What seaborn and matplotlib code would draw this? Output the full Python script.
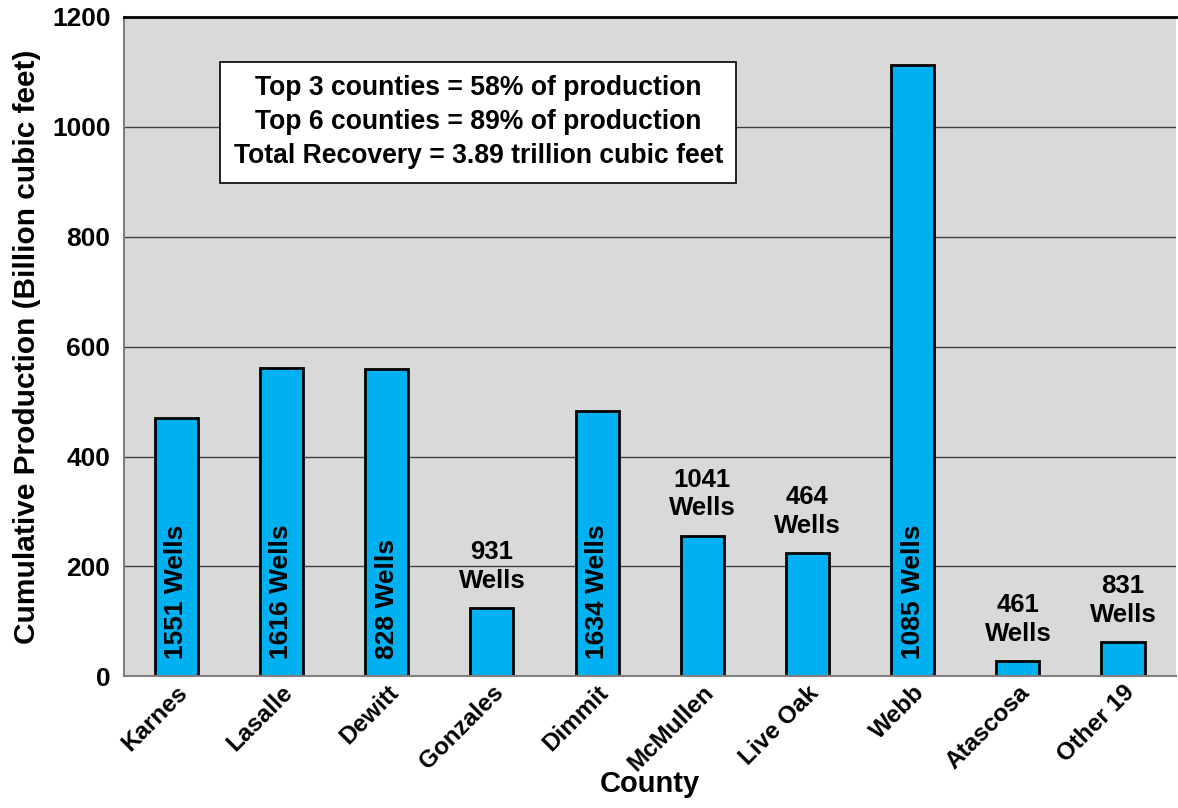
import matplotlib
matplotlib.use("Agg")
import matplotlib.pyplot as plt
import pandas as pd
import seaborn as sns

# Data
counties = ['Karnes', 'Lasalle', 'Dewitt', 'Gonzales', 'Dimmit',
            'McMullen', 'Live Oak', 'Webb', 'Atascosa', 'Other 19']
production = [470, 562, 559, 124, 482, 256, 224, 1113, 27, 62]
wells = [1551, 1616, 828, 931, 1634, 1041, 464, 1085, 461, 831]
inside = [True, True, True, False, True, False, False, True, False, False]

df = pd.DataFrame({'county': counties, 'value': production})

sns.set_style("white")
plt.rcParams['font.family'] = ['Liberation Sans', 'DejaVu Sans']
plt.rcParams['font.weight'] = 'bold'
plt.rcParams['text.color'] = 'black'
plt.rcParams['axes.labelcolor'] = 'black'
plt.rcParams['xtick.color'] = 'black'
plt.rcParams['ytick.color'] = 'black'

fig = plt.figure(figsize=(11.78, 8.08), dpi=100)
ax = fig.add_axes([0.105, 0.163, 0.893, 0.816])
ax.set_facecolor('#D9D9D9')

ax.set_axisbelow(True)
ax.yaxis.grid(True, color='#404040', linewidth=1)

sns.barplot(x='county', y='value', data=df, color='#00B0F0', saturation=1,
            width=0.41, edgecolor='black', linewidth=2, ax=ax)

ax.set_ylim(0, 1200)
ax.set_xlim(-0.5, len(counties) - 0.5)
ax.set_yticks(range(0, 1201, 200))
ax.tick_params(axis='y', labelsize=19, length=6, color='#808080', width=1,
               labelcolor='black')
ax.tick_params(axis='x', length=0, labelsize=17.5, labelcolor='black')
for lab in ax.get_yticklabels():
    lab.set_fontweight('bold')
ax.set_xticks(range(len(counties)))
ax.set_xticklabels(counties, rotation=45, ha='right', rotation_mode='anchor',
                   fontweight='bold')
# minor ticks between categories
ax.set_xticks([i + 0.5 for i in range(-1, len(counties))], minor=True)
ax.tick_params(axis='x', which='minor', length=8, color='#808080', width=1)

for s in ['left', 'bottom']:
    ax.spines[s].set_color('#808080')
    ax.spines[s].set_linewidth(1.5)
ax.spines['top'].set_color('black')
ax.spines['top'].set_linewidth(2)
ax.spines['right'].set_visible(False)

ax.set_xlabel('County', fontsize=21, fontweight='bold', labelpad=-4)
ax.set_ylabel('Cumulative Production (Billion cubic feet)', fontsize=21.5,
              fontweight='bold', labelpad=8)

for i, (v, w, ins) in enumerate(zip(production, wells, inside)):
    if ins:
        ax.text(i, 32, f'{w} Wells', rotation=90, ha='center', va='bottom',
                fontsize=19, fontweight='bold')
    else:
        ax.text(i, v + 28, f'{w}\nWells', ha='center', va='bottom',
                fontsize=18.5, fontweight='bold', linespacing=1.25)

ax.text(0.337, 0.840,
        'Top 3 counties = 58% of production\n'
        'Top 6 counties = 89% of production\n'
        'Total Recovery = 3.89 trillion cubic feet',
        transform=ax.transAxes, ha='center', va='center', fontsize=19.1,
        fontweight='bold', linespacing=1.4,
        bbox=dict(facecolor='white', edgecolor='black', linewidth=1.2,
                  boxstyle='square,pad=0.5'))

fig.savefig('out.png', dpi=100)
